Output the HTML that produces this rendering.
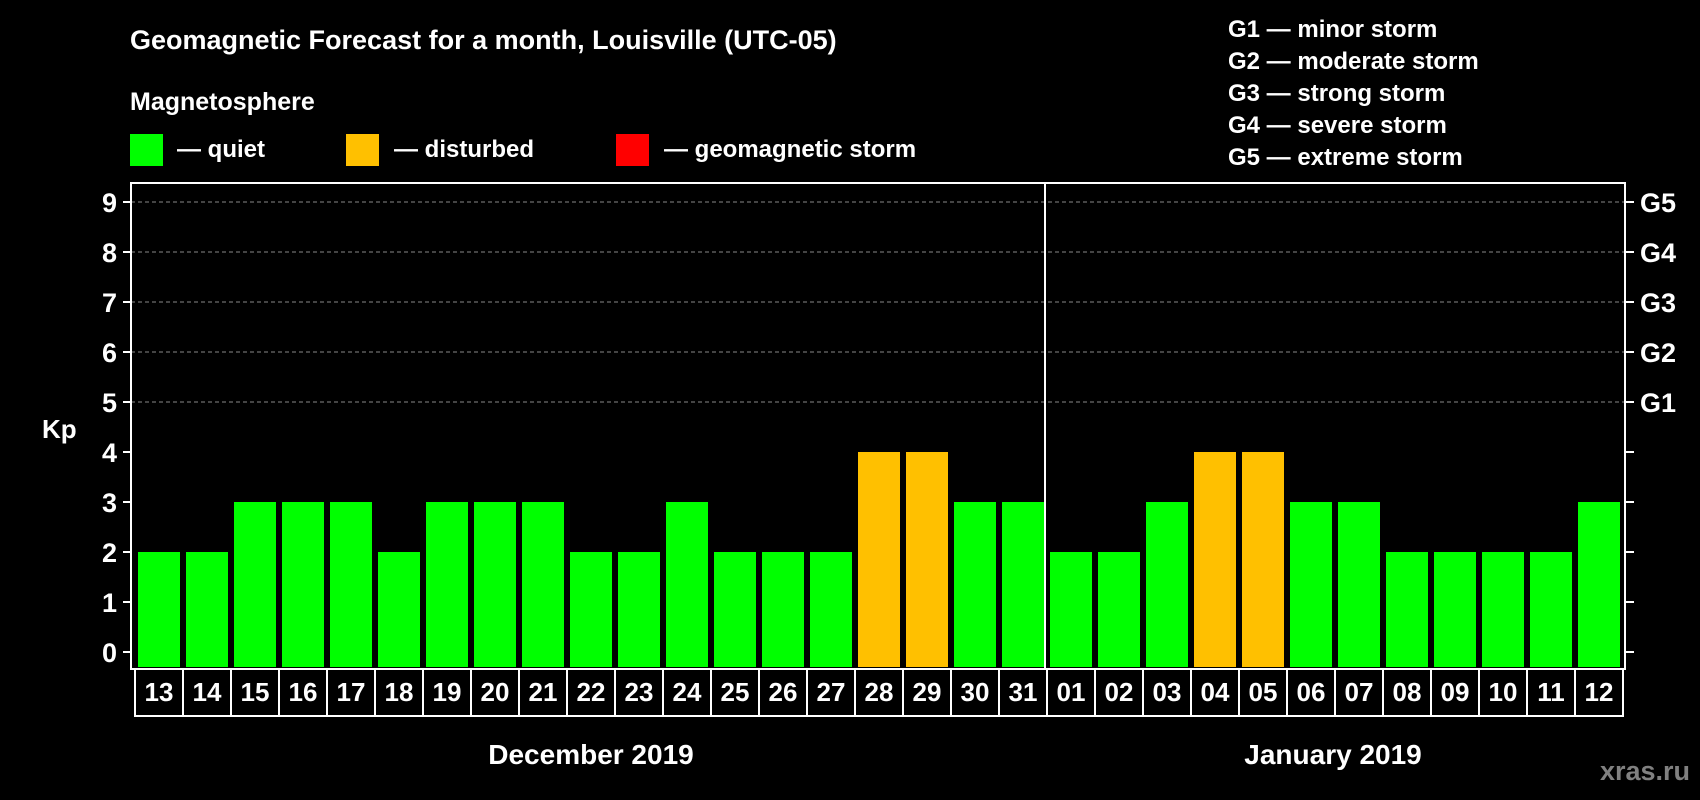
<!DOCTYPE html>
<html><head><meta charset="utf-8"><style>
html,body{margin:0;padding:0;background:#000;}
svg{display:block;font-family:"Liberation Sans",Arial,sans-serif;font-weight:bold;}
</style></head><body>
<svg id="chart" width="1700" height="800" viewBox="0 0 1700 800">
<rect x="0" y="0" width="1700" height="800" fill="#000"/>
<text x="130" y="49" fill="#fff" font-size="27">Geomagnetic Forecast for a month, Louisville (UTC-05)</text>
<text x="130" y="110" fill="#fff" font-size="25">Magnetosphere</text>
<g>
<rect x="130" y="134" width="33" height="32" fill="#00ff00"/>
<text x="177" y="157" fill="#fff" font-size="24">— quiet</text></g>
<g>
<rect x="346" y="134" width="33" height="32" fill="#ffc000"/>
<text x="394" y="157" fill="#fff" font-size="24">— disturbed</text></g>
<g>
<rect x="616" y="134" width="33" height="32" fill="#ff0000"/>
<text x="664" y="157" fill="#fff" font-size="24">— geomagnetic storm</text></g>
<g font-size="24" fill="#fff">
<text x="1228" y="37">G1 — minor storm</text>
<text x="1228" y="69">G2 — moderate storm</text>
<text x="1228" y="101">G3 — strong storm</text>
<text x="1228" y="133">G4 — severe storm</text>
<text x="1228" y="165">G5 — extreme storm</text>
</g>
<text x="42" y="438" fill="#fff" font-size="26">Kp</text>
<g id="grid"></g>
<g id="bars"></g>
<g id="axes"></g>
<text x="591" y="764" fill="#fff" font-size="28" text-anchor="middle">December 2019</text>
<text x="1333" y="764" fill="#fff" font-size="28" text-anchor="middle">January 2019</text>
<text x="1690" y="780" fill="#808080" font-size="27" text-anchor="end">xras.ru</text>
</svg>
<script>
const days = ["13","14","15","16","17","18","19","20","21","22","23","24","25","26","27","28","29","30","31","01","02","03","04","05","06","07","08","09","10","11","12"];
const kpValues = [2,2,3,3,3,2,3,3,3,2,2,3,2,2,2,4,4,3,3,2,2,3,4,4,3,3,2,2,2,2,3];
const yTicks = [0,1,2,3,4,5,6,7,8,9];
const gLabels = ["G1","G2","G3","G4","G5"];
const monthBreakIndex = 19;

const NS = "http://www.w3.org/2000/svg";
const L = 131, R = 1625, T = 183, B = 669, X0 = 133, STEP = 48;
function yPos(v){ return 652 - v * 50; }
function xPos(i){ return X0 + i * STEP; }
function mk(tag, attrs, parent){ const e = document.createElementNS(NS, tag); for (const k in attrs) e.setAttribute(k, attrs[k]); parent.appendChild(e); return e; }
function colorFor(v){ return v >= 5 ? "#ff0000" : (v >= 4 ? "#ffc000" : "#00ff00"); }

const grid = document.getElementById("grid");
const bars = document.getElementById("bars");
const axes = document.getElementById("axes");

yTicks.forEach(function(v){
  const y = yPos(v);
  if (v >= 5) {
    const g = mk("line", {x1:L, x2:R, y1:y, y2:y, stroke:"#888", "stroke-width":1, "stroke-dasharray":"4,3"}, grid);
    
    
  }
  const t = mk("line", {x1:123, x2:L, y1:y, y2:y, stroke:"#fff", "stroke-width":2}, axes);
  
  
  const rt = mk("line", {x1:R, x2:1634, y1:y, y2:y, stroke:"#fff", "stroke-width":2}, axes);
  
  
  const lb = mk("text", {x:117, y:y + 10, fill:"#fff", "font-size":27, "text-anchor":"end"}, axes);
  lb.textContent = v;
  
  
  if (v >= 5) {
    const gl = mk("text", {x:1640, y:y + 10, fill:"#fff", "font-size":27}, axes);
    gl.textContent = gLabels[v - 5];
    
    
  }
});

kpValues.forEach(function(v, i){
  const x = xPos(i) + 5, y = yPos(v);
  const r = mk("rect", {x:x, y:y, width:42, height:B - 2 - y, fill:colorFor(v)}, bars);
  
  
  const bx = mk("rect", {x:135 + i * STEP, y:669, width:STEP, height:47, fill:"none", stroke:"#fff", "stroke-width":2}, axes);
  
  
  const lt = mk("text", {x:135 + i * STEP + STEP / 2, y:701, fill:"#fff", "font-size":26, "text-anchor":"middle"}, axes);
  lt.textContent = days[i];
  
  
});

const frame = mk("rect", {x:L, y:T, width:R - L, height:B - T, fill:"none", stroke:"#fff", "stroke-width":2}, axes);


const div = mk("line", {x1:xPos(monthBreakIndex), x2:xPos(monthBreakIndex), y1:T, y2:B, stroke:"#fff", "stroke-width":2}, axes);


</script>
</body></html>
